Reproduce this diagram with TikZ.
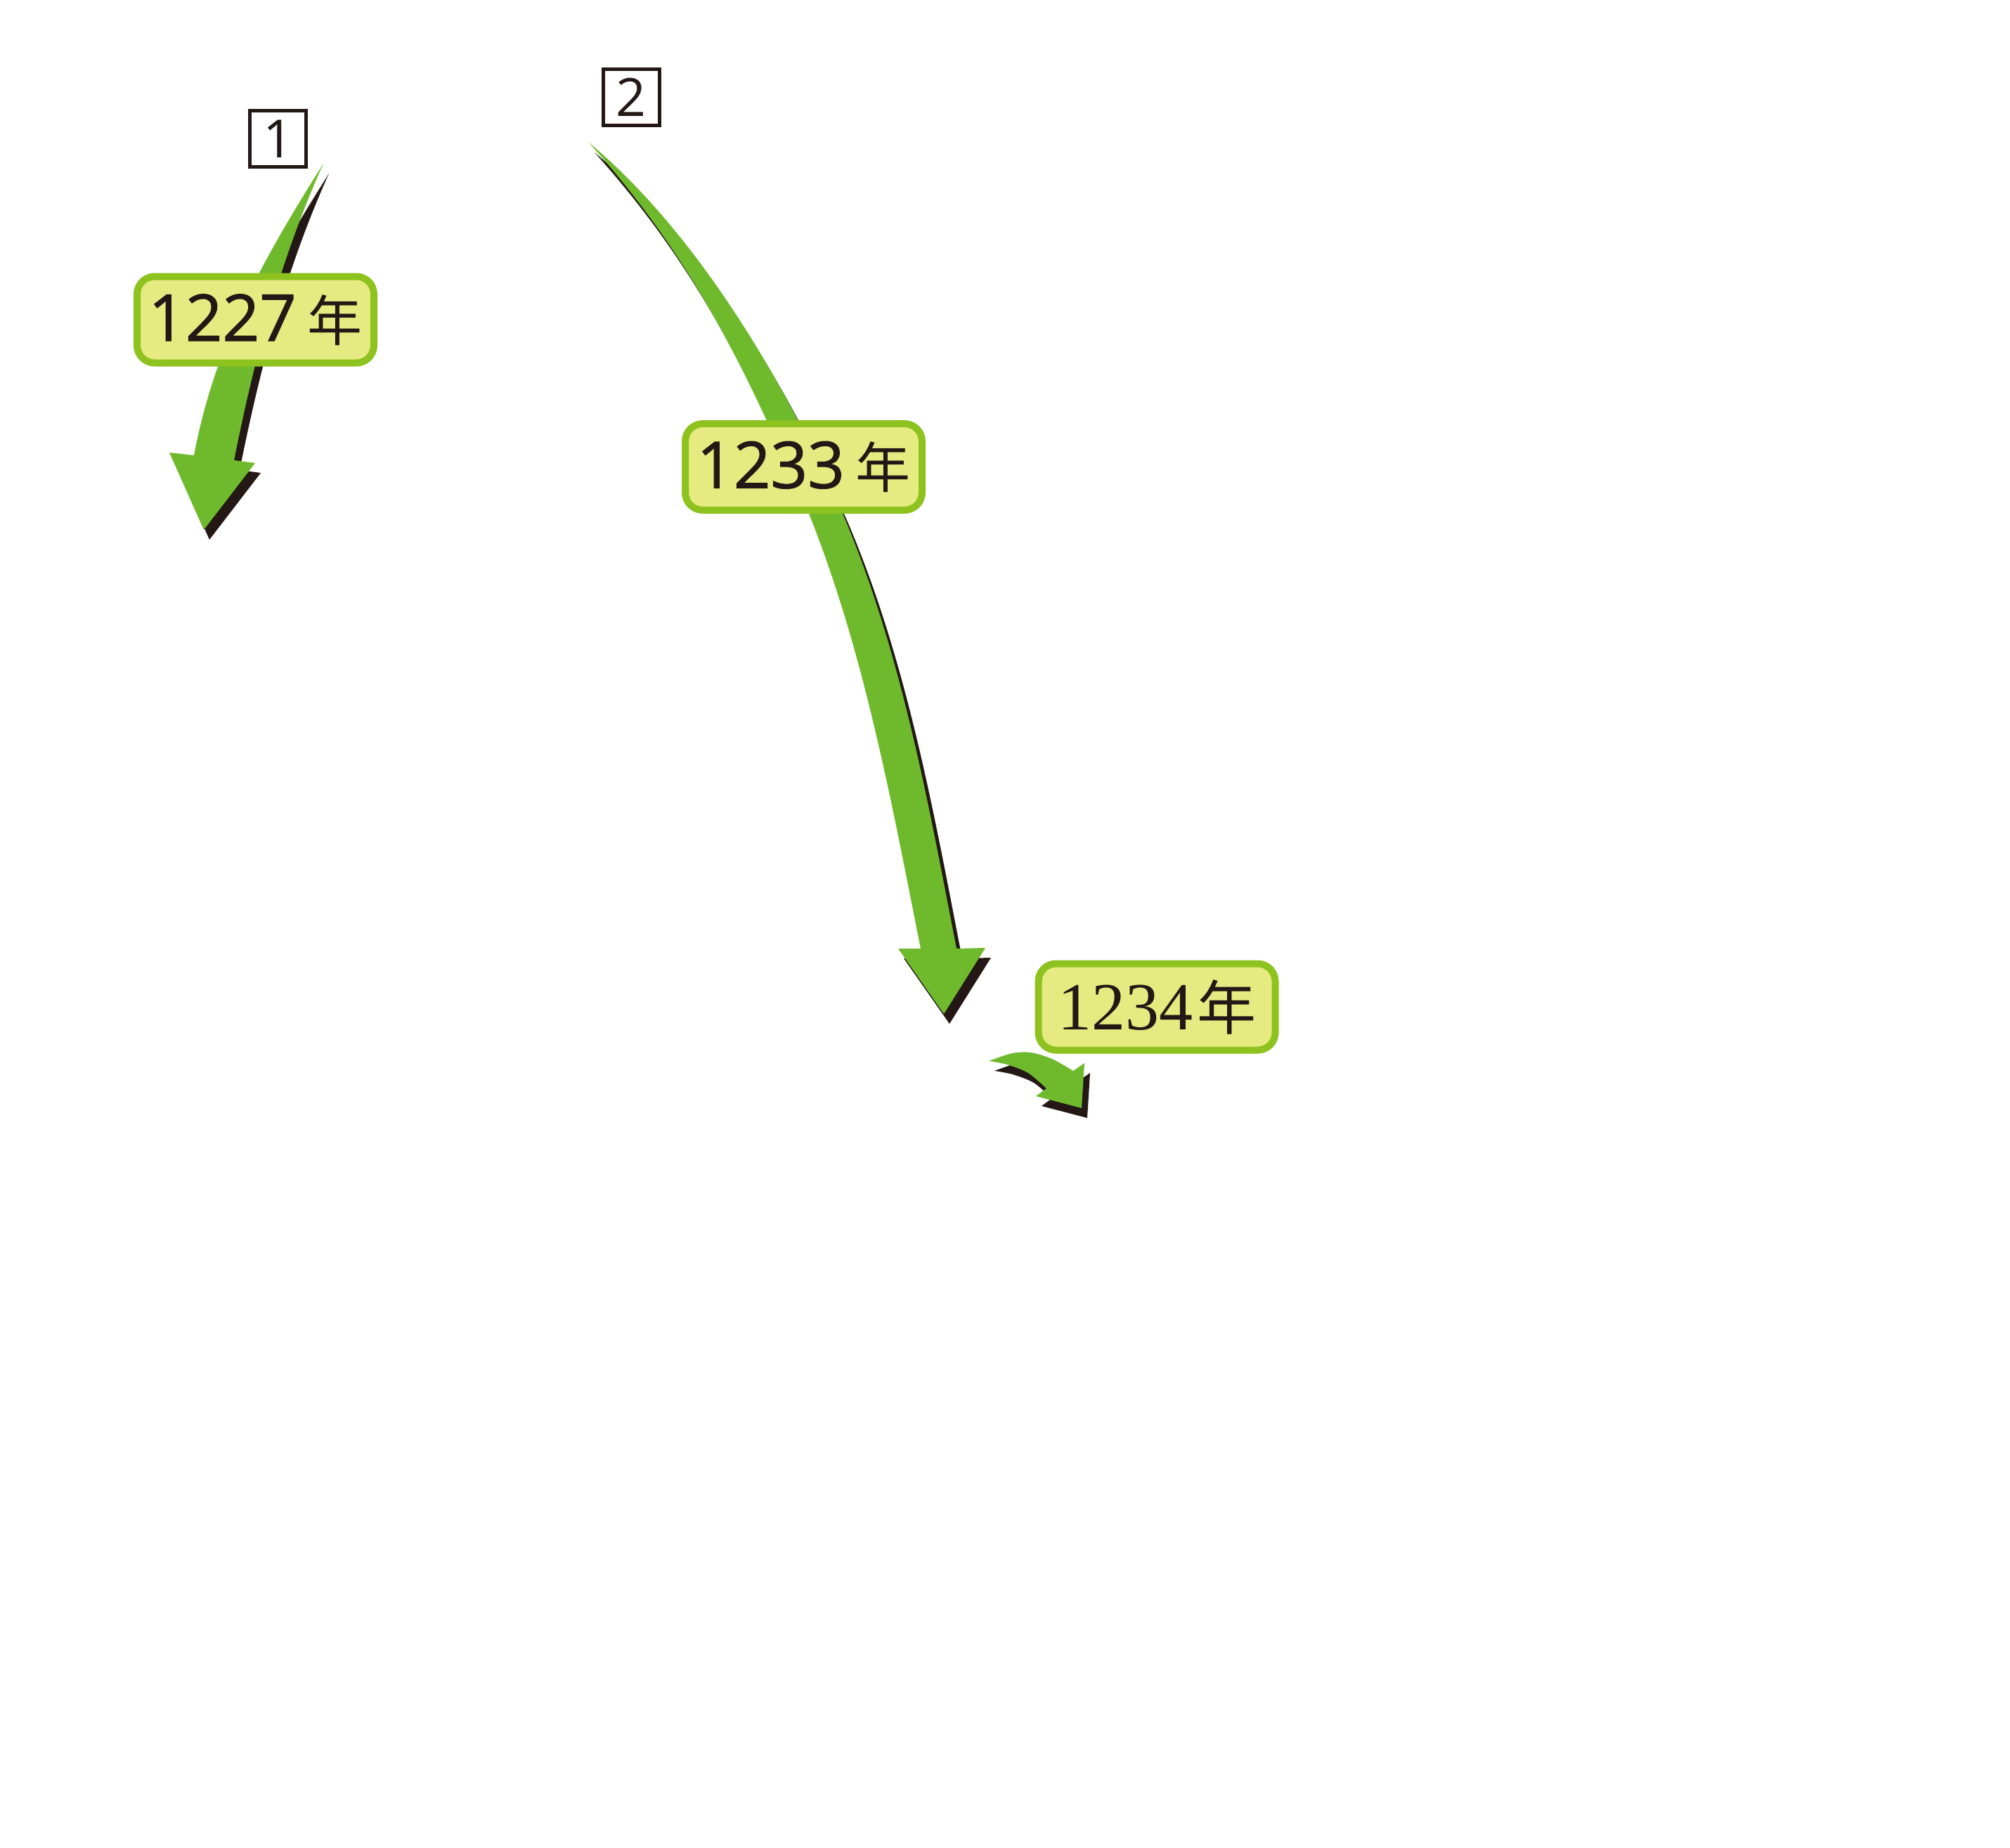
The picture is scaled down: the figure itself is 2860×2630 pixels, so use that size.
\documentclass[tikz,border=0pt]{standalone}
\usepackage{fontspec}
\newfontfamily\sansf[FakeBold=1.2]{Open Sans}
\newfontfamily\sansr{Open Sans}
\newfontfamily\seriff{Liberation Serif}
\newfontfamily\cjk{Noto Sans CJK SC}
\definecolor{arrowgreen}{RGB}{111,186,44}
\definecolor{labelborder}{RGB}{141,194,31}
\definecolor{labelfill}{RGB}{229,235,128}
\definecolor{inkblack}{RGB}{35,24,21}
\tikzset{
  yearlabel/.style={draw=labelborder, fill=labelfill, line width=10pt,
    rounded corners=25pt, minimum width=337pt, minimum height=123pt,
    inner sep=0pt, text=inkblack},
  numbox/.style={draw=inkblack, fill=white, line width=5pt,
    minimum width=80pt, minimum height=80pt, inner sep=0pt, text=inkblack,
    font=\sansr\fontsize{75}{78}\selectfont},
  arrowbody/.style={fill=arrowgreen},
  arrowshadow/.style={fill=inkblack},
}
\newcommand{\arrowOne}{(460,233) .. controls (365.5,383) and (304.5,498) .. (276,648)
  -- (241,644) -- (290,754) -- (363,659) -- (333,655)
  .. controls (361,515) and (397,373) .. (460,233) -- cycle}
\newcommand{\arrowTwo}{(838,203) .. controls (1000,383) and (1070,551) .. (1151,731)
  .. controls (1231,931) and (1270,1150) .. (1310,1350)
  -- (1278,1350) -- (1343,1443) -- (1402,1349) -- (1361,1350)
  .. controls (1322,1150) and (1284,931) .. (1199,731)
  .. controls (1121,551) and (994,333) .. (838,203) -- cycle}
\newcommand{\arrowThree}{(1407,1510) -- plot[smooth] coordinates {(1407,1510) (1440,1499) (1467,1498) (1497,1507) (1527,1524)}
  -- (1543,1513) -- (1539,1577) -- (1474,1560) -- (1489,1549)
  -- plot[smooth] coordinates {(1489,1549) (1463,1527) (1433,1515) (1407,1510)} -- cycle}
\begin{document}
\begin{tikzpicture}[x=1pt,y=-1pt]
\useasboundingbox[fill=white] (0,0) rectangle (2860,2630);
% shadows
\begin{scope}[shift={(8,14)}]
  \fill[arrowshadow] \arrowOne;
  \fill[arrowshadow] \arrowTwo;
  \fill[arrowshadow] \arrowThree;
\end{scope}
% arrows
\fill[arrowbody] \arrowOne;
\fill[arrowbody] \arrowTwo;
\fill[arrowbody] \arrowThree;
% number boxes
\node[numbox] (b1) at (395.5,198) {1};
\node[numbox] (b2) at (898,138.5) {2};
% year labels
\node[yearlabel] (y1) at (363.5,455) {{\sansf\fontsize{92}{96}\selectfont 1227}\hspace{16pt}{\cjk\fontsize{78}{80}\selectfont 年}};
\node[yearlabel] (y2) at (1143.5,664.5) {{\sansf\fontsize{92}{96}\selectfont 1233}\hspace{16pt}{\cjk\fontsize{78}{80}\selectfont 年}};
\node[yearlabel] (y3) at (1646,1433) {{\seriff\fontsize{96}{100}\selectfont 1234}\hspace{6pt}{\cjk\fontsize{84}{84}\selectfont 年}};
\end{tikzpicture}
\end{document}
